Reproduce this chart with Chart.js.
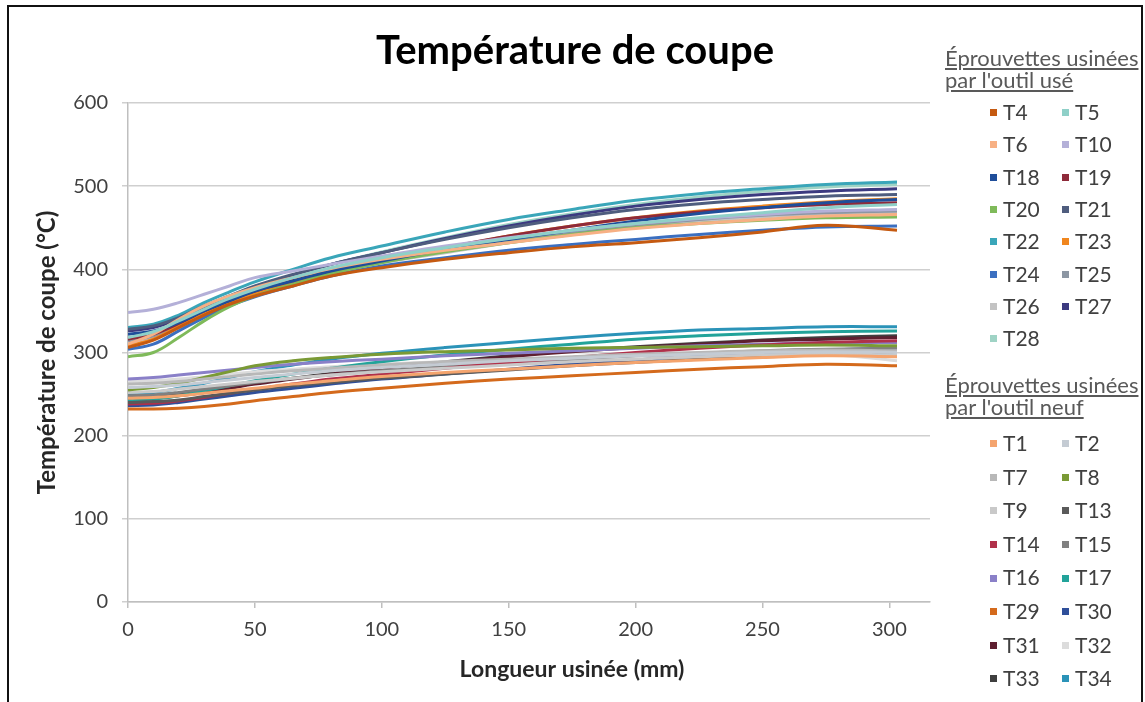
<!DOCTYPE html>
<html lang="fr">
<head>
<meta charset="utf-8">
<title>Température de coupe</title>
<script src="https://cdn.jsdelivr.net/npm/chart.js@4.4.0/dist/chart.umd.min.js"></script>
<style>
    html, body { margin: 0; padding: 0; background: #fff; }
    body { width: 1145px; height: 702px; position: relative; overflow: hidden; font-family: Lato, 'Open Sans', sans-serif; }
    #chart { position: absolute; left: 0; top: 0; }
    .frame { position: absolute; left: 7px; top: 5px; width: 1132px; height: 720px; border: 2px solid #111; pointer-events: none; }
    .legend { position: absolute; left: 945px; top: 0; width: 194px; height: 702px; overflow: hidden; color: #404040; font-size: 21px; }
    .legend .head { position: absolute; left: 0; white-space: nowrap; text-decoration: underline; color: #595959; line-height: 22px; font-size: 22px; }
    .legend .item { position: absolute; white-space: nowrap; line-height: 24px; }
    .legend .mark { display: inline-block; width: 7px; height: 7px; margin-right: 6px; vertical-align: middle; position: relative; top: -2px; }
</style>
</head>
<body>
<canvas id="chart" width="1145" height="702"></canvas>
<div class="legend" id="legend"></div>
<div class="frame"></div>

<script>
// Longueur usinée (mm) where each series was sampled
const lengthMm = [0, 10, 20, 30, 40, 50, 65, 80, 100, 125, 150, 175, 200, 225, 250, 275, 303];
const xTickValues = [0, 50, 100, 150, 200, 250, 300];
const yTickValues = [0, 100, 200, 300, 400, 500, 600];

const chartTitle = 'Température de coupe';
const xTitle = 'Longueur usinée (mm)';
const yTitle = 'Température de coupe (°C)';
const usedHeader = ['Éprouvettes usinées', "par l'outil usé"];
const newHeader = ['Éprouvettes usinées', "par l'outil neuf"];

// Eprouvettes usinées par l'outil usé
const T4  = [306, 315, 330, 345, 358, 368, 380, 392, 402, 412, 420, 427, 432, 438, 445, 453, 447];
const T5  = [318, 325, 338, 352, 365, 376, 390, 402, 414, 426, 437, 447, 455, 462, 468, 474, 478];
const T6  = [310, 322, 340, 356, 368, 378, 390, 401, 412, 423, 432, 441, 449, 455, 460, 464, 466];
const T10 = [348, 352, 360, 370, 380, 390, 398, 406, 416, 428, 438, 447, 455, 461, 466, 470, 472];
const T18 = [322, 326, 336, 350, 362, 374, 386, 398, 410, 424, 436, 447, 458, 467, 474, 480, 484];
const T19 = [316, 322, 335, 350, 363, 374, 387, 399, 411, 426, 440, 452, 462, 469, 474, 478, 480];
const T20 = [295, 300, 318, 338, 355, 368, 382, 395, 408, 421, 432, 442, 450, 455, 459, 462, 463];
const T21 = [328, 332, 342, 356, 368, 380, 394, 406, 420, 436, 450, 462, 472, 479, 484, 488, 490];
const T22 = [330, 334, 345, 360, 373, 385, 400, 414, 428, 445, 460, 472, 483, 491, 497, 502, 505];
const T23 = [308, 316, 332, 348, 360, 371, 385, 397, 410, 425, 440, 452, 462, 470, 476, 481, 485];
const T24 = [304, 310, 326, 342, 356, 367, 380, 392, 404, 414, 423, 430, 436, 442, 447, 451, 452];
const T25 = [314, 320, 334, 348, 360, 372, 386, 398, 410, 423, 435, 445, 453, 460, 465, 468, 470];
const T26 = [312, 318, 332, 347, 360, 371, 384, 396, 408, 420, 432, 442, 451, 458, 463, 466, 468];
const T27 = [326, 330, 340, 354, 367, 379, 393, 406, 420, 437, 452, 465, 476, 484, 490, 494, 497];
const T28 = [313, 320, 334, 350, 364, 377, 392, 406, 421, 438, 454, 467, 478, 487, 494, 499, 502];

// Eprouvettes usinées par l'outil neuf
const T1  = [245, 246, 248, 251, 254, 257, 262, 266, 271, 276, 280, 284, 288, 291, 294, 296, 295];
const T2  = [258, 259, 261, 264, 267, 270, 274, 278, 282, 286, 290, 293, 296, 298, 300, 301, 300];
const T7  = [262, 263, 265, 268, 271, 274, 278, 281, 285, 289, 292, 295, 298, 300, 302, 303, 302];
const T8  = [255, 258, 263, 270, 277, 284, 290, 294, 298, 301, 303, 305, 306, 307, 308, 309, 308];
const T9  = [252, 253, 256, 259, 262, 265, 269, 273, 277, 281, 285, 289, 292, 295, 297, 298, 297];
const T13 = [240, 241, 243, 247, 251, 255, 260, 264, 269, 274, 279, 284, 288, 292, 296, 299, 300];
const T14 = [238, 239, 242, 246, 251, 256, 262, 268, 274, 281, 288, 294, 300, 305, 309, 312, 314];
const T15 = [248, 249, 252, 256, 260, 264, 269, 273, 278, 283, 288, 292, 296, 299, 302, 304, 305];
const T16 = [268, 270, 273, 276, 279, 282, 286, 289, 292, 296, 299, 302, 305, 308, 310, 312, 312];
const T17 = [242, 244, 248, 254, 260, 266, 274, 281, 289, 297, 304, 310, 316, 320, 323, 325, 326];
const T29 = [232, 232, 233, 235, 238, 242, 247, 252, 257, 263, 268, 272, 276, 280, 283, 286, 284];
const T30 = [236, 237, 240, 244, 248, 252, 257, 262, 268, 274, 280, 286, 291, 296, 300, 303, 305];
const T31 = [244, 245, 248, 252, 257, 262, 268, 274, 281, 288, 295, 301, 306, 310, 314, 316, 318];
const T32 = [265, 266, 268, 271, 274, 277, 280, 283, 286, 289, 292, 294, 296, 297, 298, 298, 290];
const T33 = [246, 247, 250, 254, 258, 263, 269, 275, 282, 289, 296, 302, 307, 311, 315, 318, 320];
const T34 = [250, 252, 257, 263, 270, 277, 285, 292, 299, 306, 312, 318, 323, 327, 329, 331, 331];

const usedToolNames = ['T4', 'T5', 'T6', 'T10', 'T18', 'T19', 'T20', 'T21', 'T22', 'T23', 'T24', 'T25', 'T26', 'T27', 'T28'];
const newToolNames = ['T1', 'T2', 'T7', 'T8', 'T9', 'T13', 'T14', 'T15', 'T16', 'T17', 'T29', 'T30', 'T31', 'T32', 'T33', 'T34'];

const seriesValues = {
    T4, T5, T6, T10, T18, T19, T20, T21, T22, T23, T24, T25, T26, T27, T28,
    T1, T2, T7, T8, T9, T13, T14, T15, T16, T17, T29, T30, T31, T32, T33, T34
};

const seriesColors = {
    T4: '#c55a11', T5: '#8fd0c8', T6: '#f7b084', T10: '#b4b0d8', T18: '#1f4e9a',
    T19: '#8e2a3a', T20: '#7fba5a', T21: '#4f5d7e', T22: '#3aa6b9', T23: '#f0861e',
    T24: '#3b6fc0', T25: '#8c96a3', T26: '#c3c3c3', T27: '#3c3a80', T28: '#9fd3c5',
    T1: '#f4a46e', T2: '#c4cbd3', T7: '#b8b8b8', T8: '#7a9a35', T9: '#c9c9c9',
    T13: '#5a5a5a', T14: '#b0304a', T15: '#808080', T16: '#8a80c8', T17: '#22a39a',
    T29: '#d46a1c', T30: '#2f4f9a', T31: '#5e1f30', T32: '#dcdcdc', T33: '#3f3f3f',
    T34: '#2b93b8'
};

const fontFamily = 'Lato, "Open Sans", sans-serif';

document.addEventListener('DOMContentLoaded', function() {
    initChart();
});

function buildDataset(name, group) {
    return {
        label: name,
        group: group,
        data: lengthMm.map((x, i) => ({ x: x, y: seriesValues[name][i] })),
        borderColor: seriesColors[name],
        backgroundColor: seriesColors[name],
        borderWidth: 3,
        pointRadius: 0,
        tension: 0.4,
        fill: false
    };
}

// Chart title and x title drawn by a small plugin: in the original they are
// centred on the whole frame rather than on the plot area
const titlePlugin = {
    id: 'frameTitles',
    afterDraw(chart) {
        const c = chart.ctx;
        c.save();
        c.textAlign = 'center';
        c.textBaseline = 'middle';
        c.font = 'bold 40px ' + fontFamily;
        c.fillStyle = '#000';
        c.fillText(chartTitle, 575, 51);
        c.font = 'bold 23px ' + fontFamily;
        c.fillStyle = '#262626';
        c.fillText(xTitle, 572, 670);
        c.restore();
    }
};

function initChart() {
    const datasets = usedToolNames.map(n => buildDataset(n, 'used'))
        .concat(newToolNames.map(n => buildDataset(n, 'new')));

    const tickFont = { family: fontFamily, size: 20 };

    const chart = new Chart(document.getElementById('chart'), {
        type: 'line',
        data: { datasets: datasets },
        plugins: [titlePlugin],
        options: {
            responsive: false,
            animation: false,
            layout: {
                padding: { top: 103, left: 20, right: 215, bottom: 10 }
            },
            plugins: {
                legend: { display: false },
                tooltip: { enabled: false },
                title: { display: false }
            },
            scales: {
                x: {
                    type: 'linear',
                    min: 0,
                    max: 316,
                    afterBuildTicks: s => { s.ticks = xTickValues.map(v => ({ value: v })); },
                    afterFit: s => { s.height = 90; },
                    ticks: { font: tickFont, color: '#404040', padding: 10, maxRotation: 0 },
                    grid: { drawOnChartArea: false, tickLength: 6, color: '#bfbfbf', lineWidth: 1.5 },
                    border: { color: '#bfbfbf', width: 1.5 }
                },
                y: {
                    min: 0,
                    max: 600,
                    afterBuildTicks: s => { s.ticks = yTickValues.map(v => ({ value: v })); },
                    afterFit: s => { s.width = 108; },
                    ticks: { font: tickFont, color: '#404040', padding: 14 },
                    grid: { color: '#cfcfcf', lineWidth: 1.5, tickLength: 6 },
                    border: { color: '#bfbfbf', width: 1.5 },
                    title: {
                        display: true,
                        text: yTitle,
                        color: '#262626',
                        font: { family: fontFamily, size: 24, weight: 'bold' },
                        padding: { top: 13, bottom: 0 }
                    }
                }
            }
        }
    });

    buildLegend(chart);
}

function buildLegend(chart) {
    const legend = document.getElementById('legend');
    const groups = [
        { key: 'used', header: usedHeader, headTop: 47, firstRow: 112, rowStep: 32.3 },
        { key: 'new', header: newHeader, headTop: 374, firstRow: 443, rowStep: 33.6 }
    ];

    groups.forEach(g => {
        const head = document.createElement('div');
        head.className = 'head';
        head.style.top = g.headTop + 'px';
        head.innerHTML = g.header[0] + '<br>' + g.header[1];
        legend.appendChild(head);

        const items = chart.data.datasets.filter(d => d.group === g.key);
        items.forEach((d, i) => {
            const row = Math.floor(i / 2);
            const col = i % 2;
            const item = document.createElement('div');
            item.className = 'item';
            item.style.left = (col === 0 ? 45 : 117) + 'px';
            item.style.top = (g.firstRow + row * g.rowStep - 12) + 'px';
            item.innerHTML = `<span class="mark" style="background:${d.borderColor}"></span>${d.label}`;
            legend.appendChild(item);
        });
    });
}
</script>
</body>
</html>
